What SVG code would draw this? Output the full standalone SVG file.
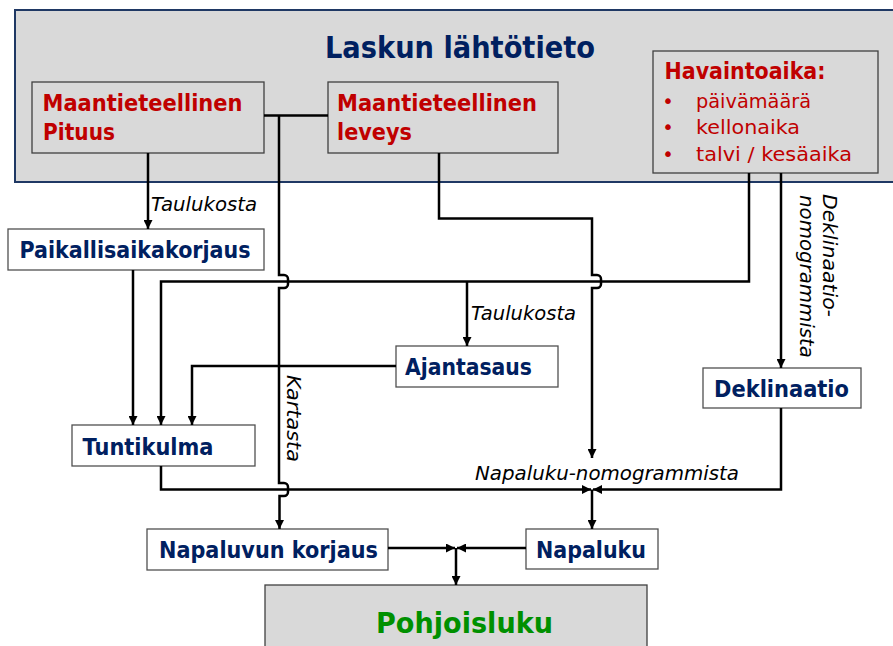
<svg xmlns="http://www.w3.org/2000/svg" width="893" height="646" viewBox="0 0 893 646">
<defs>
<style>
.bx{fill:#D9D9D9;stroke:#404040;stroke-width:1.3}
.wb{fill:#FFFFFF;stroke:#505050;stroke-width:1.3}
.lb{font-family:"DejaVu Sans","Liberation Sans",sans-serif;font-weight:bold;font-size:23px;fill:#002060}
.rd{font-family:"DejaVu Sans","Liberation Sans",sans-serif;font-weight:bold;font-size:23px;fill:#C00000}
.rn{font-family:"DejaVu Sans","Liberation Sans",sans-serif;font-size:19.5px;fill:#C00000}
.it{font-family:"DejaVu Sans","Liberation Sans",sans-serif;font-style:italic;font-size:19.5px;fill:#000}
.cn{fill:none;stroke:#000;stroke-width:2.5}
.ar{marker-end:url(#ah)}
</style>
<marker id="ah" viewBox="0 0 10 10" refX="10" refY="5" markerWidth="9" markerHeight="9" markerUnits="userSpaceOnUse" orient="auto"><path d="M0,0 L10,5 L0,10 z" fill="#000"/></marker>
</defs>
<rect x="0" y="0" width="893" height="646" fill="#FFFFFF"/>

<g id="lahtotieto">
<rect x="15" y="10" width="884" height="172" fill="#D9D9D9" stroke="#1F3864" stroke-width="2"/>
<text x="325" y="58" font-family="DejaVu Sans, Liberation Sans, sans-serif" font-weight="bold" font-size="31" fill="#002060" textLength="270" lengthAdjust="spacingAndGlyphs">Laskun lähtötieto</text>
</g>

<g id="pituus">
<rect class="bx" x="32" y="82" width="232" height="71"/>
<text class="rd" x="42.5" y="111" textLength="200" lengthAdjust="spacingAndGlyphs">Maantieteellinen</text>
<text class="rd" x="43" y="140" textLength="72" lengthAdjust="spacingAndGlyphs">Pituus</text>
</g>

<g id="leveys">
<rect class="bx" x="328" y="82" width="230" height="71"/>
<text class="rd" x="337" y="111" textLength="200" lengthAdjust="spacingAndGlyphs">Maantieteellinen</text>
<text class="rd" x="337" y="140" textLength="75" lengthAdjust="spacingAndGlyphs">leveys</text>
</g>

<g id="havaintoaika">
<rect class="bx" x="653" y="51" width="225" height="122"/>
<text class="rd" x="664.5" y="79" textLength="161" lengthAdjust="spacingAndGlyphs">Havaintoaika:</text>
<text class="rn" x="668" y="107.5" text-anchor="middle">•</text>
<text class="rn" x="696" y="107.5" textLength="115" lengthAdjust="spacingAndGlyphs">päivämäärä</text>
<text class="rn" x="668" y="133.5" text-anchor="middle">•</text>
<text class="rn" x="696" y="133.5" textLength="104" lengthAdjust="spacingAndGlyphs">kellonaika</text>
<text class="rn" x="668" y="160.5" text-anchor="middle">•</text>
<text class="rn" x="696" y="160.5" textLength="156" lengthAdjust="spacingAndGlyphs">talvi / kesäaika</text>
</g>

<g id="paikallisaikakorjaus">
<rect class="wb" x="8" y="229" width="256" height="41"/>
<text class="lb" x="19.5" y="258" textLength="231" lengthAdjust="spacingAndGlyphs">Paikallisaikakorjaus</text>
</g>

<g id="ajantasaus">
<rect class="wb" x="396" y="346" width="162" height="41"/>
<text class="lb" x="405" y="375" textLength="127" lengthAdjust="spacingAndGlyphs">Ajantasaus</text>
</g>

<g id="tuntikulma">
<rect class="wb" x="72" y="425" width="183" height="41"/>
<text class="lb" x="82.5" y="455" textLength="131" lengthAdjust="spacingAndGlyphs">Tuntikulma</text>
</g>

<g id="deklinaatio">
<rect class="wb" x="703" y="368" width="158" height="40"/>
<text class="lb" x="714" y="397" textLength="135" lengthAdjust="spacingAndGlyphs">Deklinaatio</text>
</g>

<g id="napaluvunkorjaus">
<rect class="wb" x="147" y="529" width="241" height="41"/>
<text class="lb" x="159" y="558" textLength="219" lengthAdjust="spacingAndGlyphs">Napaluvun korjaus</text>
</g>

<g id="napaluku">
<rect class="wb" x="526" y="529" width="132" height="40"/>
<text class="lb" x="536" y="558" textLength="110" lengthAdjust="spacingAndGlyphs">Napaluku</text>
</g>

<g id="pohjoisluku">
<rect class="bx" x="265" y="585" width="382" height="70"/>
<text x="376" y="633" font-family="DejaVu Sans, Liberation Sans, sans-serif" font-weight="bold" font-size="29" fill="#009000" textLength="177" lengthAdjust="spacingAndGlyphs">Pohjoisluku</text>
</g>

<g id="connectors">
<path class="cn ar" d="M148,153 V229"/>
<path class="cn" d="M264,115.5 H328"/>
<path class="cn ar" d="M279,115.5 V275 H284 A4,4 0 0 1 288,279 V284 A4,4 0 0 1 284,288 H279 V483 H284 A4,4 0 0 1 288,487 V492 A4,4 0 0 1 284,496 H279.5 V529"/>
<path class="cn ar" d="M439,153 V218.5 H592 V275 H597 A4,4 0 0 1 601,279 V284 A4,4 0 0 1 597,288 H592 V458"/>
<path class="cn ar" d="M749,173 V281.5 H161 V425"/>
<path class="cn ar" d="M467,281.5 V346"/>
<path class="cn ar" d="M133,270 V425"/>
<path class="cn ar" d="M396,366 H192 V425"/>
<path class="cn ar" d="M161,466 V489.5 H591"/>
<path class="cn ar" d="M781,173 V368"/>
<path class="cn ar" d="M781,408 V489.5 H593"/>
<path class="cn ar" d="M592,489.5 V529"/>
<path class="cn ar" d="M388,548 H455"/>
<path class="cn ar" d="M526,548 H457"/>
<path class="cn ar" d="M456,548 V585"/>
<text class="it" x="151" y="211" textLength="106" lengthAdjust="spacingAndGlyphs">Taulukosta</text>
<text class="it" x="471" y="320" textLength="105" lengthAdjust="spacingAndGlyphs">Taulukosta</text>
<text class="it" transform="translate(287,375) rotate(90)" textLength="87" lengthAdjust="spacingAndGlyphs">Kartasta</text>
<text class="it" x="475" y="480" textLength="264" lengthAdjust="spacingAndGlyphs">Napaluku-nomogrammista</text>
<text class="it" transform="translate(823,194) rotate(90)" textLength="123" lengthAdjust="spacingAndGlyphs">Deklinaatio-</text>
<text class="it" transform="translate(800,195) rotate(90)" textLength="163" lengthAdjust="spacingAndGlyphs">nomogrammista</text>
</g>
</svg>
